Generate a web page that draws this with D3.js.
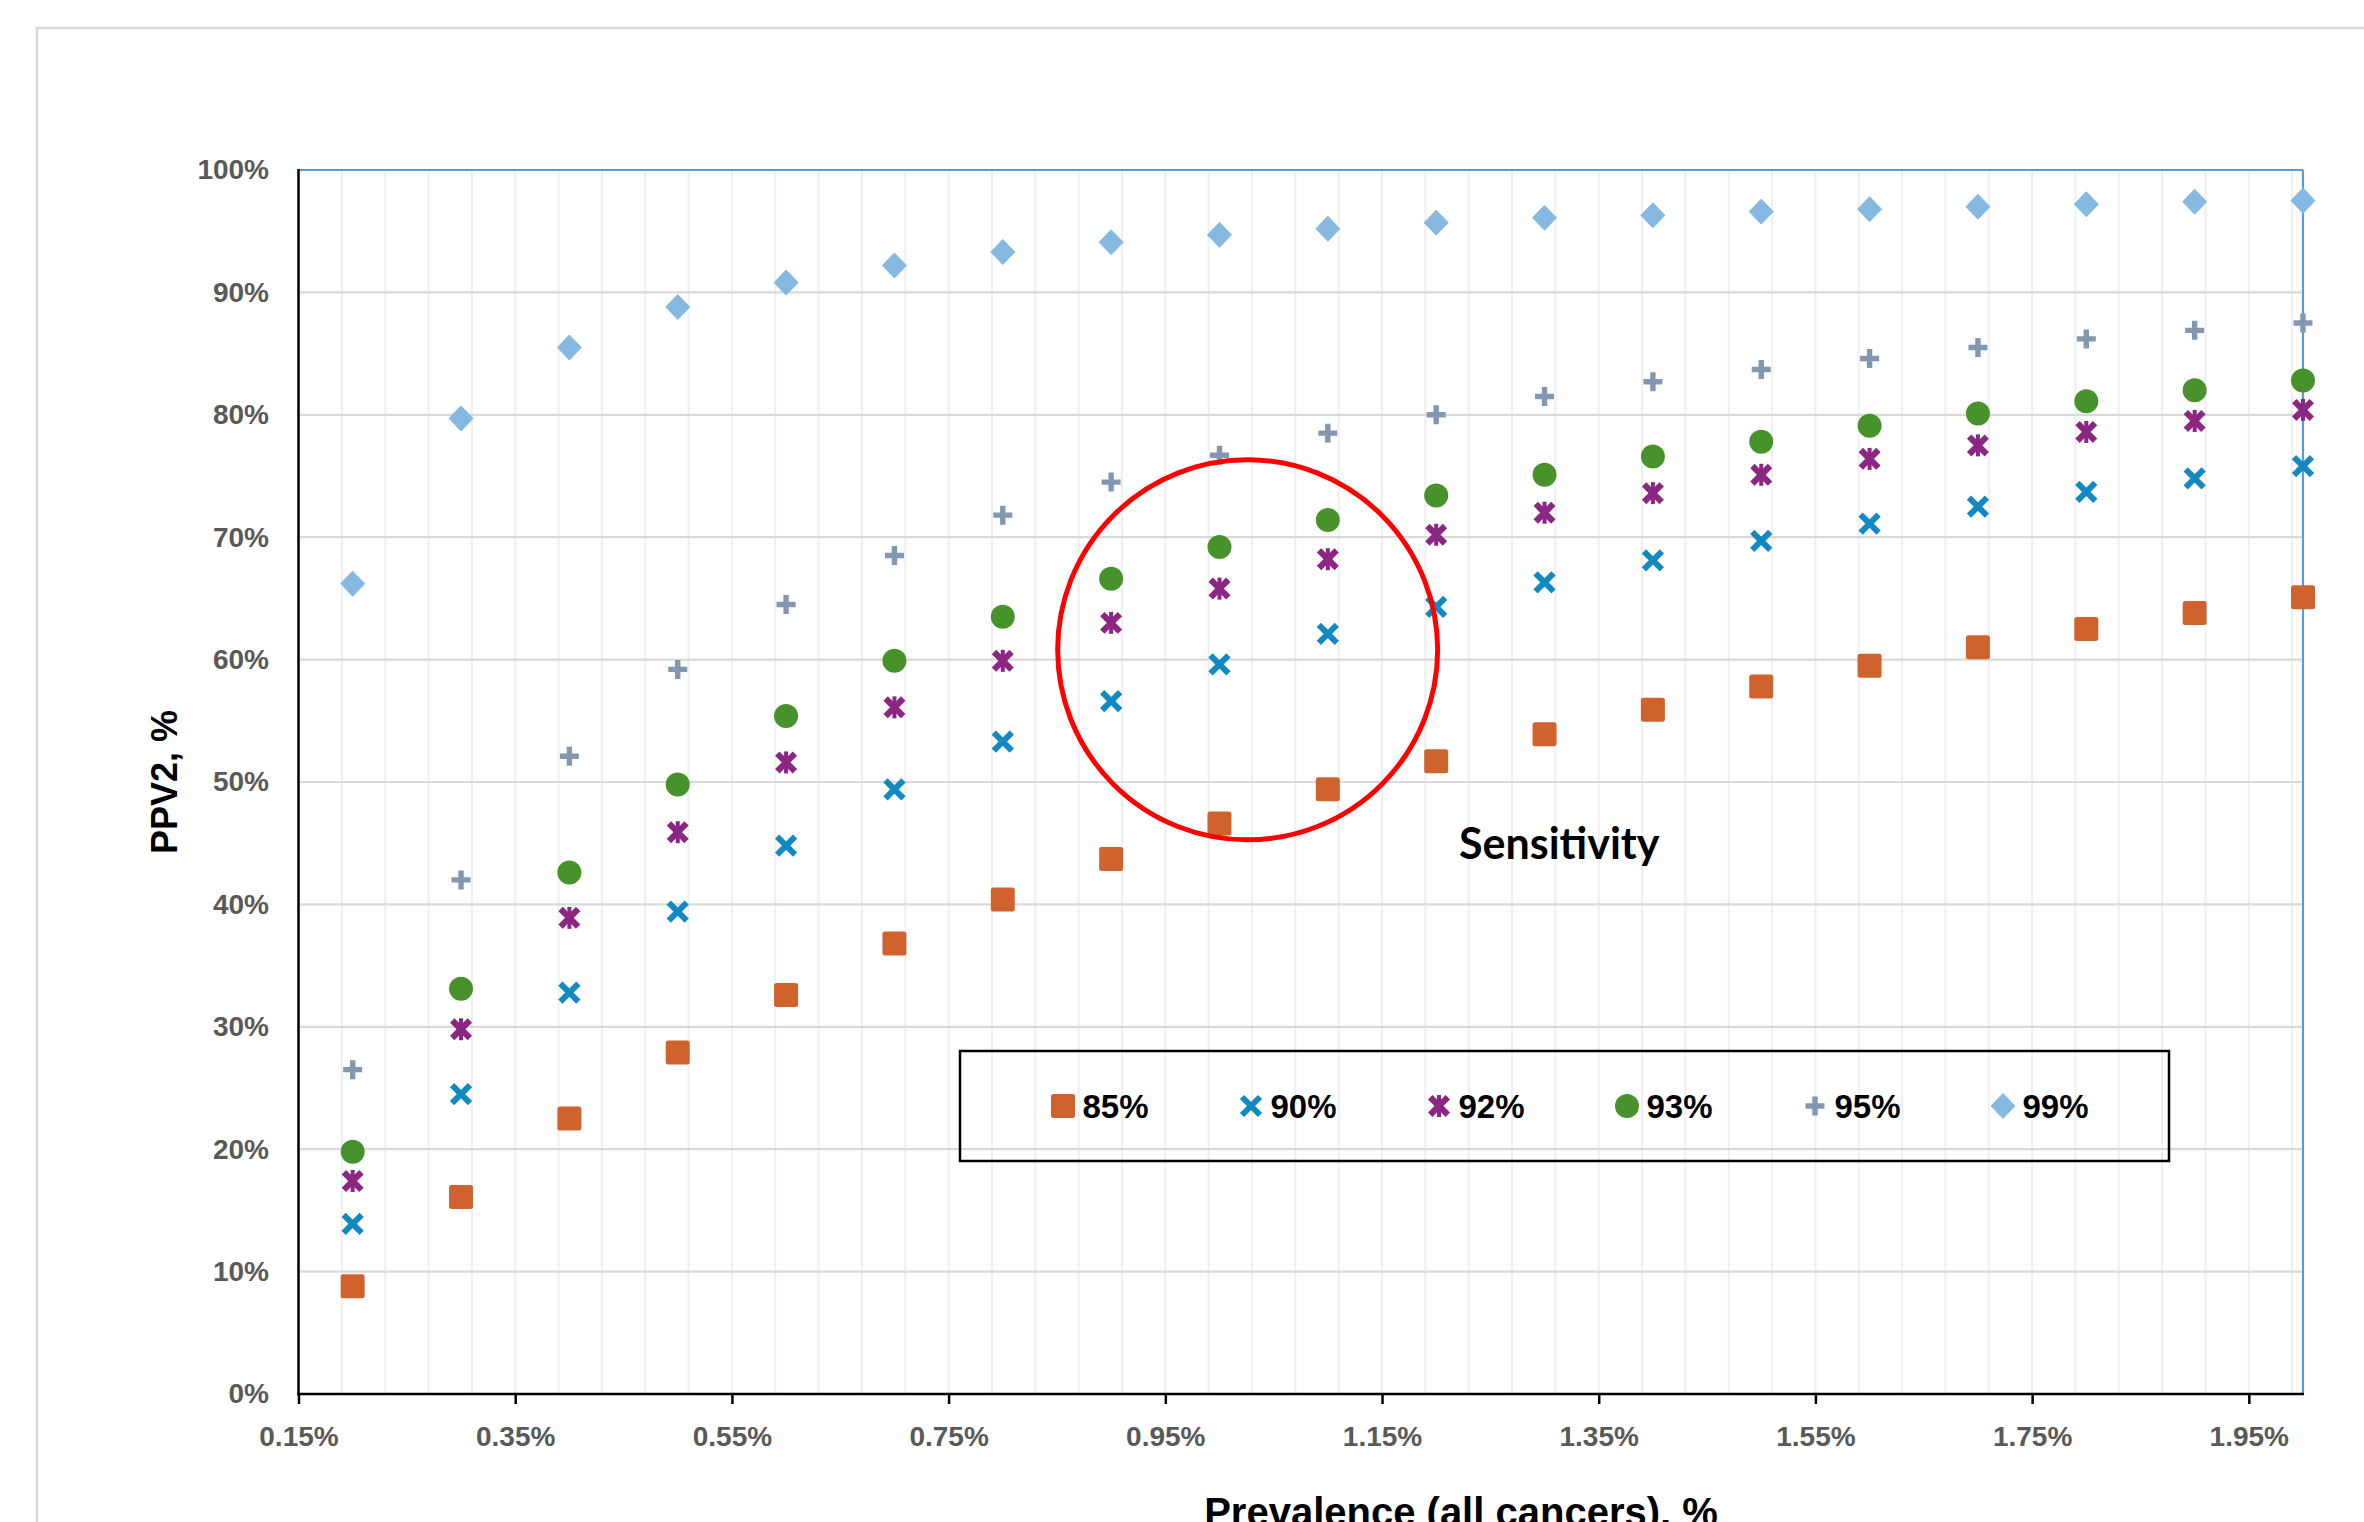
<!DOCTYPE html>
<html>
<head>
<meta charset="utf-8">
<script src="https://cdn.jsdelivr.net/npm/d3@7"></script>
<style>
  html, body { margin: 0; padding: 0; background: #ffffff; }
  svg { display: block; }
</style>
</head>
<body>
<svg id="chart" width="2364" height="1522"></svg>
<script>
// Prevalence of all cancers (%), one point per step
const prevalence = [0.2, 0.3, 0.4, 0.5, 0.6, 0.7, 0.8, 0.9, 1.0, 1.1, 1.2, 1.3, 1.4, 1.5, 1.6, 1.7, 1.8, 1.9, 2.0];

// Sensitivity levels shown in the legend
const sensitivities = ["85%", "90%", "92%", "93%", "95%", "99%"];

// PPV2 (%) for each sensitivity level
const ppv85 = [8.8, 16.1, 22.5, 27.9, 32.6, 36.8, 40.4, 43.7, 46.6, 49.4, 51.7, 53.9, 55.9, 57.8, 59.5, 61.0, 62.5, 63.8, 65.1];
const ppv90 = [13.9, 24.5, 32.8, 39.4, 44.8, 49.4, 53.3, 56.6, 59.6, 62.1, 64.3, 66.3, 68.1, 69.7, 71.1, 72.5, 73.7, 74.8, 75.8];
const ppv92 = [17.4, 29.8, 38.9, 45.9, 51.6, 56.1, 59.9, 63.0, 65.8, 68.2, 70.2, 72.0, 73.6, 75.1, 76.4, 77.5, 78.6, 79.5, 80.4];
const ppv93 = [19.8, 33.1, 42.6, 49.8, 55.4, 59.9, 63.5, 66.6, 69.2, 71.4, 73.4, 75.1, 76.6, 77.8, 79.1, 80.1, 81.1, 82.0, 82.8];
const ppv95 = [26.5, 42.0, 52.1, 59.2, 64.5, 68.5, 71.8, 74.5, 76.7, 78.5, 80.0, 81.5, 82.7, 83.7, 84.6, 85.5, 86.2, 86.9, 87.5];
const ppv99 = [66.2, 79.7, 85.5, 88.8, 90.8, 92.2, 93.3, 94.1, 94.7, 95.2, 95.7, 96.1, 96.3, 96.6, 96.8, 97.0, 97.2, 97.4, 97.5];

// Axis ticks
const xTickValues = [0.15, 0.35, 0.55, 0.75, 0.95, 1.15, 1.35, 1.55, 1.75, 1.95];
const yTickValues = [0, 10, 20, 30, 40, 50, 60, 70, 80, 90, 100];

// Annotation and titles
const annotationText = "Sensitivity";
const xTitle = "Prevalence (all cancers), %";
const yTitle = "PPV2, %";

// ---- layout & styles ----
const W = 2364, H = 1522;
const plot = { left: 298.5, right: 2303, top: 170, bottom: 1394 };
const tickFont = "'Liberation Sans', Arial, sans-serif";

const seriesStyle = [
  { shape: "square",  color: "#D0632D" },
  { shape: "x",       color: "#1389C1" },
  { shape: "star",    color: "#8B2682" },
  { shape: "circle",  color: "#47922A" },
  { shape: "plus",    color: "#8497B0" },
  { shape: "diamond", color: "#85B9E1" }
];
const seriesValues = [ppv85, ppv90, ppv92, ppv93, ppv95, ppv99];

const svg = d3.select("#chart");

const x = d3.scaleLinear().domain([0.15, 2.0]).range([plot.left, plot.right]);
const y = d3.scaleLinear().domain([0, 100]).range([plot.bottom, plot.top]);

// chart-area frame
svg.append("rect")
  .attr("x", 37).attr("y", 28)
  .attr("width", W + 50).attr("height", H + 50)
  .attr("fill", "none").attr("stroke", "#d9d9d9").attr("stroke-width", 2.5);

// minor vertical gridlines every 0.04 %
const minorX = d3.range(0, 47).map(i => 0.15 + i * 0.04);
svg.append("g").selectAll("line").data(minorX).join("line")
  .attr("x1", d => x(d)).attr("x2", d => x(d))
  .attr("y1", plot.top).attr("y2", plot.bottom)
  .attr("stroke", "#efefef").attr("stroke-width", 2);

// major horizontal gridlines
svg.append("g").selectAll("line").data(yTickValues.filter(v => v > 0)).join("line")
  .attr("x1", plot.left).attr("x2", plot.right)
  .attr("y1", d => y(d)).attr("y2", d => y(d))
  .attr("stroke", "#d9d9d9").attr("stroke-width", 2.2);

// plot frame: blue top / right, black axes
svg.append("line").attr("x1", plot.left).attr("x2", plot.right)
  .attr("y1", plot.top).attr("y2", plot.top)
  .attr("stroke", "#5B9BD5").attr("stroke-width", 2.2);
svg.append("line").attr("x1", plot.right).attr("x2", plot.right)
  .attr("y1", plot.top).attr("y2", plot.bottom)
  .attr("stroke", "#5B9BD5").attr("stroke-width", 2.2);

// x axis
const xAxis = d3.axisBottom(x).tickValues(xTickValues).tickSize(10).tickPadding(22)
  .tickFormat(d => d3.format(".2f")(d) + "%");
const gx = svg.append("g").attr("transform", `translate(0,${plot.bottom})`).call(xAxis);
gx.select(".domain").remove();
gx.selectAll(".tick line").attr("stroke", "#000").attr("stroke-width", 2.5);
gx.selectAll(".tick text")
  .attr("fill", "#595959").attr("font-family", tickFont)
  .attr("font-weight", "bold").attr("font-size", 28);

// y axis
const yAxis = d3.axisLeft(y).tickValues(yTickValues).tickSize(0).tickPadding(29.5)
  .tickFormat(d => d + "%");
const gy = svg.append("g").attr("transform", `translate(${plot.left},0)`).call(yAxis);
gy.select(".domain").remove();
gy.selectAll(".tick text")
  .attr("fill", "#595959").attr("font-family", tickFont)
  .attr("font-weight", "bold").attr("font-size", 28);

// axis lines
svg.append("line").attr("x1", plot.left).attr("x2", plot.left)
  .attr("y1", plot.top - 1).attr("y2", plot.bottom + 1.2)
  .attr("stroke", "#000").attr("stroke-width", 2.5);
svg.append("line").attr("x1", plot.left - 1.2).attr("x2", plot.right + 1)
  .attr("y1", plot.bottom).attr("y2", plot.bottom)
  .attr("stroke", "#000").attr("stroke-width", 2.5);

// marker drawing
function drawMarker(g, shape, color) {
  switch (shape) {
    case "square":
      g.append("rect").attr("x", -12).attr("y", -12).attr("width", 24).attr("height", 24)
        .attr("rx", 2.5).attr("fill", color);
      break;
    case "circle":
      g.append("circle").attr("r", 12).attr("fill", color);
      break;
    case "diamond":
      g.append("path").attr("d", "M0,-12.5 L12,0 L0,12.5 L-12,0 Z")
        .attr("fill", color).attr("stroke", color).attr("stroke-width", 1).attr("stroke-linejoin", "round");
      break;
    case "x":
      g.append("path").attr("d", "M-9,-9 L9,9 M-9,9 L9,-9")
        .attr("stroke", color).attr("stroke-width", 6).attr("fill", "none");
      break;
    case "star":
      g.append("path").attr("d", "M-8.8,-8.8 L8.8,8.8 M-8.8,8.8 L8.8,-8.8")
        .attr("stroke", color).attr("stroke-width", 6.2).attr("fill", "none");
      g.append("path").attr("d", "M0,-11 V11")
        .attr("stroke", color).attr("stroke-width", 4).attr("fill", "none");
      break;
    case "plus":
      g.append("path").attr("d", "M-9.5,0 H9.5 M0,-9.5 V9.5")
        .attr("stroke", color).attr("stroke-width", 5.4).attr("fill", "none");
      break;
  }
}

// data points
const marks = svg.append("g");
seriesValues.forEach((vals, si) => {
  const st = seriesStyle[si];
  const gs = marks.append("g").attr("class", "series-" + si);
  gs.selectAll("g").data(prevalence.map((p, i) => ({ p, v: vals[i] }))).join("g")
    .attr("transform", d => `translate(${x(d.p)},${y(d.v)})`)
    .each(function () { drawMarker(d3.select(this), st.shape, st.color); });
});

// legend
const legend = { x: 960, y: 1051, w: 1209, h: 110, first: 1063, step: 188 };
svg.append("rect").attr("x", legend.x).attr("y", legend.y)
  .attr("width", legend.w).attr("height", legend.h)
  .attr("fill", "none").attr("stroke", "#000").attr("stroke-width", 2.5);
sensitivities.forEach((name, i) => {
  const cx = legend.first + i * legend.step;
  const cy = legend.y + legend.h / 2;
  const g = svg.append("g").attr("transform", `translate(${cx},${cy})`);
  drawMarker(g, seriesStyle[i].shape, seriesStyle[i].color);
  svg.append("text").attr("x", cx + 19.5).attr("y", cy + 12)
    .attr("font-family", tickFont).attr("font-weight", "bold").attr("font-size", 33)
    .attr("fill", "#000").text(name);
});

// highlighted region
svg.append("circle").attr("cx", x(1.026)).attr("cy", y(60.8)).attr("r", 190)
  .attr("fill", "none").attr("stroke", "#ff0000").attr("stroke-width", 5);

svg.append("text").attr("x", 1459).attr("y", 859)
  .attr("font-family", "Lato, 'Open Sans', sans-serif").attr("font-weight", "bold")
  .attr("font-size", 43).attr("fill", "#000").text(annotationText);

// axis titles
svg.append("text").attr("x", 1461).attr("y", 1526).attr("text-anchor", "middle")
  .attr("font-family", tickFont).attr("font-weight", "bold").attr("font-size", 40)
  .attr("fill", "#000").text(xTitle);

svg.append("text")
  .attr("transform", `translate(177,${(plot.top + plot.bottom) / 2}) rotate(-90)`)
  .attr("text-anchor", "middle")
  .attr("font-family", tickFont).attr("font-weight", "bold").attr("font-size", 36)
  .attr("fill", "#000").text(yTitle);
</script>
</body>
</html>
